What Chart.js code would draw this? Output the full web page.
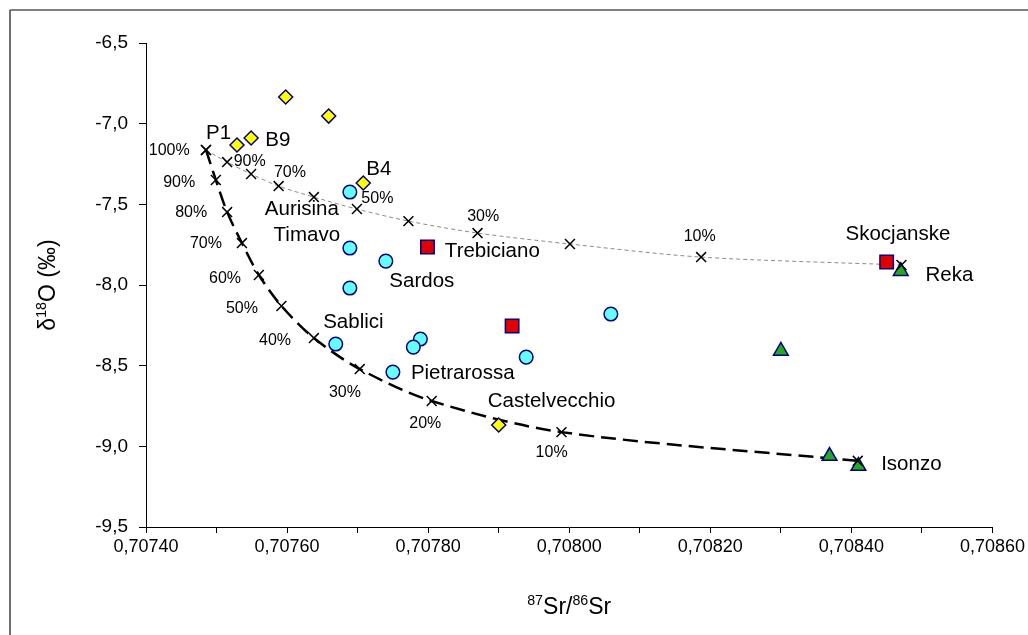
<!DOCTYPE html>
<html>
<head>
<meta charset="utf-8">
<script src="https://cdn.jsdelivr.net/npm/chart.js@4.4.0/dist/chart.umd.min.js"></script>
<style>
  html, body { margin: 0; padding: 0; background: #fff; }
  #wrap { position: relative; width: 1028px; height: 635px; }
</style>
</head>
<body>
<div id="wrap"><canvas id="sr-oxygen"></canvas></div>
<script>
// axis ticks
const xTicks = [0.70740, 0.70750, 0.70760, 0.70770, 0.70780, 0.70790, 0.70800,
                0.70810, 0.70820, 0.70830, 0.70840, 0.70850, 0.70860];
const xTickLabels = ['0,70740', '', '0,70760', '', '0,70780', '', '0,70800',
                     '', '0,70820', '', '0,70840', '', '0,70860'];
const yTicks = [-9.5, -9.0, -8.5, -8.0, -7.5, -7.0, -6.5];
const yTickLabels = ['-9,5', '-9,0', '-8,5', '-8,0', '-7,5', '-7,0', '-6,5'];

// mixing line P1 -> Isonzo (dashed)
const isoPct = [100, 90, 80, 70, 60, 50, 40, 30, 20, 10, 0];
const isoX = [0.707485, 0.707499, 0.707515, 0.707536, 0.707560, 0.707592,
              0.707638, 0.707703, 0.707805, 0.707989, 0.708409];
const isoY = [-7.163, -7.349, -7.548, -7.740, -7.938, -8.130,
              -8.329, -8.521, -8.719, -8.912, -9.090];

// mixing line P1 -> Reka (thin dotted)
const rekaPct = [100, 90, 80, 70, 60, 50, 40, 30, 20, 10, 0];
const rekaX = [0.707485, 0.707515, 0.707549, 0.707588, 0.707638, 0.707699,
               0.707772, 0.707870, 0.708001, 0.708187, 0.708471];
const rekaY = [-7.163, -7.238, -7.312, -7.387, -7.455, -7.529,
               -7.604, -7.678, -7.746, -7.827, -7.876];

// samples
const diamondX = [0.707598, 0.707659, 0.707549, 0.707529, 0.707708, 0.707900];
const diamondY = [-6.835, -6.953, -7.089, -7.132, -7.368, -8.868];

const circleX = [0.707689, 0.707689, 0.707740, 0.707689, 0.707669,
                 0.707789, 0.707779, 0.707750, 0.708059, 0.707939];
const circleY = [-7.424, -7.771, -7.852, -8.019, -8.366,
                 -8.335, -8.385, -8.540, -8.180, -8.447];

const squareX = [0.707799, 0.707919, 0.708450];
const squareY = [-7.765, -8.254, -7.858];

const triangleX = [0.708470, 0.708300, 0.708369, 0.708410];
const triangleY = [-7.914, -8.409, -9.060, -9.122];

// site names, anchored in axis units
const siteNames = ['P1', 'B9', 'B4', 'Aurisina', 'Timavo', 'Trebiciano', 'Sardos', 'Sablici',
                   'Pietrarossa', 'Castelvecchio', 'Skocjanske', 'Reka', 'Isonzo'];
const siteX = [0.707503, 0.707587, 0.707730, 0.707621, 0.707628, 0.707891, 0.707791, 0.707694,
               0.707849, 0.707975, 0.708466, 0.708539, 0.708485];
const siteY = [-7.058, -7.101, -7.281, -7.529, -7.690, -7.790, -7.976, -8.230,
               -8.546, -8.719, -7.684, -7.938, -9.110];

// percentage captions
const pctText = ['100%', '90%', '80%', '70%', '60%', '50%', '40%', '30%', '20%', '10%',
                 '90%', '70%', '50%', '30%', '10%'];
const pctX = [0.707433, 0.707447, 0.707464, 0.707485, 0.707512, 0.707536, 0.707583,
              0.707682, 0.707796, 0.707975,
              0.707547, 0.707604, 0.707728, 0.707878, 0.708185];
const pctY = [-7.170, -7.368, -7.554, -7.746, -7.963, -8.149, -8.347, -8.670, -8.856, -9.036,
              -7.238, -7.306, -7.467, -7.573, -7.703];

const FONT = '"Liberation Sans", Arial, sans-serif';
const NAVY = '#000080';

function pts(xs, ys) {
  return xs.map((x, i) => ({ x: x, y: ys[i] }));
}

// draws a line of text where some pieces are superscripts
function richText(ctx, parts, size) {
  let w = 0;
  parts.forEach(p => {
    ctx.font = (p.sup ? size * 0.62 : size) + 'px ' + FONT;
    p.w = ctx.measureText(p.t).width;
    w += p.w;
  });
  let x = -w / 2;
  parts.forEach(p => {
    ctx.font = (p.sup ? size * 0.62 : size) + 'px ' + FONT;
    ctx.fillText(p.t, x, p.sup ? -size * 0.38 : 0);
    x += p.w;
  });
}

const decorations = {
  id: 'decorations',
  beforeDraw(chart) {
    const ctx = chart.ctx;
    ctx.save();
    ctx.fillStyle = '#fff';
    ctx.fillRect(0, 0, chart.width, chart.height);
    ctx.strokeStyle = '#808080';
    ctx.lineWidth = 2;
    ctx.beginPath();
    ctx.moveTo(10, 10);
    ctx.lineTo(chart.width, 10);
    ctx.stroke();
    ctx.strokeStyle = '#404040';
    ctx.lineWidth = 1.5;
    ctx.beginPath();
    ctx.moveTo(10, 10);
    ctx.lineTo(10, chart.height);
    ctx.stroke();
    ctx.restore();
  },
  afterDraw(chart) {
    const ctx = chart.ctx;
    const xs = chart.scales.x, ys = chart.scales.y;
    ctx.save();
    ctx.fillStyle = '#000';
    ctx.textAlign = 'center';
    ctx.textBaseline = 'middle';

    ctx.font = '20.5px ' + FONT;
    siteNames.forEach((s, i) => {
      ctx.fillText(s, xs.getPixelForValue(siteX[i]), ys.getPixelForValue(siteY[i]));
    });
    ctx.font = '16px ' + FONT;
    pctText.forEach((s, i) => {
      ctx.fillText(s, xs.getPixelForValue(pctX[i]), ys.getPixelForValue(pctY[i]));
    });

    // axis titles
    ctx.textAlign = 'left';
    ctx.textBaseline = 'alphabetic';
    ctx.save();
    ctx.translate((xs.left + xs.right) / 2, 614);
    richText(ctx, [{ t: '87', sup: true }, { t: 'Sr/' }, { t: '86', sup: true }, { t: 'Sr' }], 23);
    ctx.restore();
    ctx.save();
    ctx.translate(55, (ys.top + ys.bottom) / 2);
    ctx.rotate(-Math.PI / 2);
    richText(ctx, [{ t: 'δ' }, { t: '18', sup: true }, { t: 'O (‰)' }], 23);
    ctx.restore();
    ctx.restore();
  }
};

const lineSet = (xs, ys, color, width, dash) => ({
  data: pts(xs, ys), showLine: true, borderColor: color, borderWidth: width,
  borderDash: dash, pointRadius: 0, tension: 0.3, fill: false, order: 10
});
const markSet = (xs, ys, style, radius, fill, border, width) => ({
  data: pts(xs, ys), showLine: false, pointStyle: style, pointRadius: radius,
  pointBackgroundColor: fill, pointBorderColor: border, pointBorderWidth: width,
  backgroundColor: fill, borderColor: border, order: 0
});

const ctx = document.getElementById('sr-oxygen').getContext('2d');

const chart = new Chart(ctx, {
  type: 'scatter',
  data: {
    datasets: [
      lineSet(rekaX, rekaY, '#8c8c8c', 1, [4, 3]),
      lineSet(isoX, isoY, '#000', 2.5, [15, 7]),
      markSet(rekaX, rekaY, 'crossRot', 7, '#000', '#000', 1.5),
      markSet(isoX, isoY, 'crossRot', 7, '#000', '#000', 1.5),
      markSet(squareX, squareY, 'rect', 9.5, '#e00000', NAVY, 1.5),
      markSet(triangleX, triangleY, 'triangle', 8.5, '#22aa22', NAVY, 1.5),
      markSet(circleX, circleY, 'circle', 6.8, '#66ffff', NAVY, 1.5),
      markSet(diamondX, diamondY, 'rectRot', 7, '#ffff00', NAVY, 1.5)
    ]
  },
  options: {
    responsive: true,
    maintainAspectRatio: false,
    animation: false,
    layout: { padding: { top: 43, right: 34, bottom: 0, left: 0 } },
    plugins: {
      legend: { display: false },
      tooltip: { enabled: false }
    },
    scales: {
      x: {
        type: 'linear',
        min: 0.7074,
        max: 0.7086,
        afterBuildTicks: scale => { scale.ticks = xTicks.map(v => ({ value: v })); },
        afterFit: scale => { scale.height = 108; },
        ticks: {
          autoSkip: false,
          maxRotation: 0,
          minRotation: 0,
          padding: 3,
          color: '#000',
          font: { family: FONT, size: 18 },
          callback: (v, i) => xTickLabels[i]
        },
        grid: { drawOnChartArea: false, drawTicks: true, tickLength: 6, color: '#000' },
        border: { display: true, color: '#000', width: 1 }
      },
      y: {
        type: 'linear',
        min: -9.5,
        max: -6.5,
        afterBuildTicks: scale => { scale.ticks = yTicks.map(v => ({ value: v })); },
        afterFit: scale => { scale.width = 146; },
        ticks: {
          padding: 11,
          color: '#000',
          font: { family: FONT, size: 19 },
          callback: (v, i) => yTickLabels[i]
        },
        grid: { drawOnChartArea: false, drawTicks: true, tickLength: 7, color: '#000' },
        border: { display: true, color: '#000', width: 1 }
      }
    }
  },
  plugins: [decorations]
});
</script>
</body>
</html>
